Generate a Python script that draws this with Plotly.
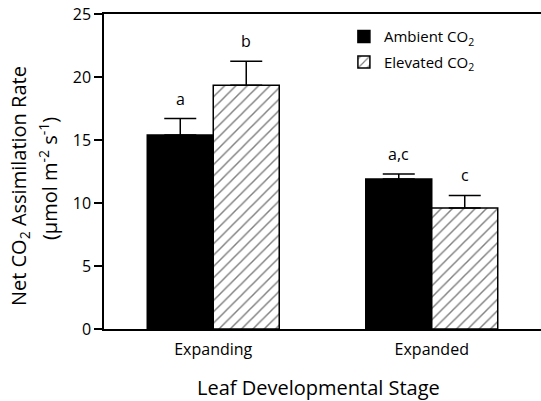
import plotly.graph_objects as go

stages = ["Expanding", "Expanded"]
ambient = [15.4, 11.9]
ambient_err = [1.3, 0.4]
elevated = [19.35, 9.6]
elevated_err = [1.9, 1.0]
ambient_letters = ["a", "a,c"]
elevated_letters = ["b", "c"]

FONT = "'Open Sans', sans-serif"

fig = go.Figure()
fig.add_trace(go.Bar(
    x=stages, y=ambient, name="Ambient CO<sub>2</sub>", legendgroup="amb",
    marker=dict(color="black", line=dict(color="black", width=1.5)),
    error_y=dict(type="data", symmetric=False, array=ambient_err,
                 arrayminus=[0, 0], color="black", thickness=1.5, width=16),
))
fig.add_trace(go.Bar(
    x=stages, y=elevated, name="Elevated CO<sub>2</sub>", legendgroup="elev",
    marker=dict(color="white", line=dict(color="black", width=1.5),
                pattern=dict(shape="/", fgcolor="black", bgcolor="white",
                             size=8, solidity=0.18)),
    error_y=dict(type="data", symmetric=False, array=elevated_err,
                 arrayminus=[0, 0], color="black", thickness=1.5, width=16),
))

# significance letters above the error bars
for i, s in enumerate(stages):
    for vals, errs, letters, off in [(ambient, ambient_err, ambient_letters, -0.151),
                                     (elevated, elevated_err, elevated_letters, 0.151)]:
        fig.add_annotation(x=i + off, y=vals[i] + errs[i], text=letters[i],
                           showarrow=False, yanchor="bottom", yshift=7,
                           font=dict(size=16, color="black", family=FONT))

# axis titles as annotations so the two y-title lines can be spaced like the original
fig.add_annotation(xref="paper", yref="paper", x=-0.192, y=0.454, textangle=-90,
                   text="Net CO<sub>2</sub> Assimilation Rate", showarrow=False,
                   xanchor="center", yanchor="middle", font=dict(size=20))
fig.add_annotation(xref="paper", yref="paper", x=-0.128, y=0.476, textangle=-90,
                   text="(µmol m<sup>-2</sup> s<sup>-1</sup>)", showarrow=False,
                   xanchor="center", yanchor="middle", font=dict(size=20))
fig.add_annotation(xref="paper", yref="paper", x=0.49, y=-0.185,
                   text="Leaf Developmental Stage", showarrow=False,
                   xanchor="center", yanchor="middle", font=dict(size=20))

fig.update_layout(
    width=541, height=401,
    margin=dict(l=104, r=0, t=14, b=72),
    plot_bgcolor="white", paper_bgcolor="white",
    barmode="group", bargap=0.396, bargroupgap=0,
    font=dict(family=FONT, color="black", size=15),
    legend=dict(x=0.549, y=0.98, xanchor="left", yanchor="top",
                bgcolor="rgba(0,0,0,0)", font=dict(size=15),
                tracegroupgap=3),
    xaxis=dict(showline=True, linecolor="black", linewidth=1.5, mirror=True,
               ticks="", range=[-0.5, 1.5], showgrid=False,
               tickfont=dict(size=16), ticklabelstandoff=5),
    yaxis=dict(showline=True, linecolor="black", linewidth=1.5,
               range=[0, 25], dtick=5, ticks="outside", ticklen=8,
               tickwidth=1.5, tickcolor="black", showgrid=False, zeroline=False,
               tickfont=dict(size=16)),
)

# drop the browser's default body margin so the figure sits at the page corner
fig.write_html("out.html", config={"displayModeBar": False},
               post_script="document.body.style.margin='0px';")
